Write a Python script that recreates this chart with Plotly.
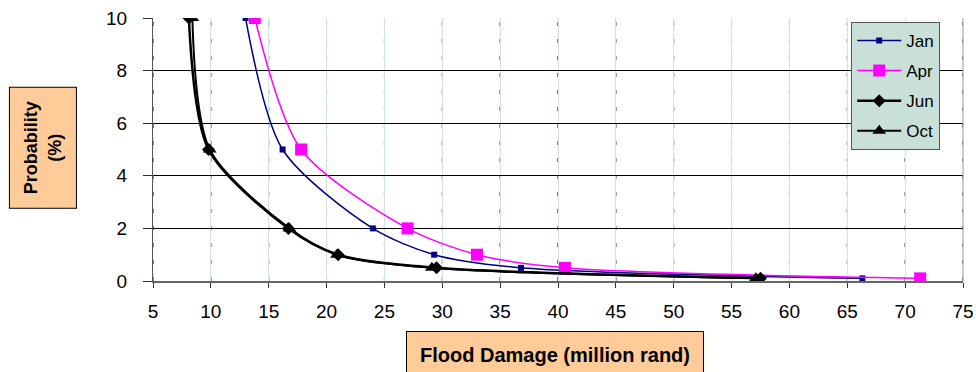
import plotly.graph_objects as go

# Flood damage (million rand) for each annual exceedance probability (%)
probability = [10, 5, 2, 1, 0.5, 0.1]
jan_damage = [13.0, 16.2, 24.0, 29.3, 36.8, 66.3]
apr_damage = [13.8, 17.8, 27.0, 33.0, 40.6, 71.3]
jun_damage = [8.1, 9.8, 16.7, 21.0, 29.5, 57.5]
oct_damage = [8.4, 9.9, 16.8, 20.9, 29.1, 57.1]

x_ticks = list(range(5, 80, 5))
y_ticks = [0, 2, 4, 6, 8, 10]

FONT = "Arial, Liberation Sans, sans-serif"

series = [
    ("Jan", jan_damage, "#000080", 1.5, dict(symbol="square", size=6, color="#000080")),
    ("Apr", apr_damage, "#ff00ff", 1.5, dict(symbol="square", size=12, color="#ff00ff")),
    ("Jun", jun_damage, "#000000", 2.5, dict(symbol="diamond", size=10, color="#000000")),
    ("Oct", oct_damage, "#000000", 2.0, dict(symbol="triangle-up", size=12, color="#000000")),
]

fig = go.Figure()
for name, xs, color, width, marker in series:
    fig.add_trace(go.Scatter(
        x=xs, y=probability, name=name, mode="lines+markers",
        line=dict(color=color, width=width, shape="spline", smoothing=0.8),
        marker=marker, legendgroup=name,
    ))

# dashed overlay on the vertical gridlines
for v in x_ticks:
    fig.add_shape(type="line", xref="x", yref="paper", x0=v, x1=v, y0=0, y1=1,
                  line=dict(color="#000000", width=1, dash="4px,13px"), layer="between")

fig.update_layout(
    width=976, height=372,
    margin=dict(l=153, r=13, t=18, b=91),
    paper_bgcolor="white", plot_bgcolor="white",
    font=dict(family=FONT, size=17, color="#000000"),
    showlegend=True,
    legend=dict(
        x=0.862, y=0.985, xanchor="left", yanchor="top",
        bgcolor="#c8e0d8", bordercolor="#555555", borderwidth=1,
        font=dict(family=FONT, size=17, color="#000000"),
        tracegroupgap=5, itemwidth=44,
    ),
    xaxis=dict(
        range=[5, 75], tickvals=x_ticks, ticks="outside", ticklen=5, tickcolor="#333333",
        tickfont=dict(family=FONT, size=19, color="#000000"),
        showgrid=True, gridcolor="#cfe3df", gridwidth=1,
        showline=True, linecolor="#666666", linewidth=2, mirror=False,
        zeroline=False, ticklabelstandoff=7, automargin=False,
    ),
    yaxis=dict(
        range=[0, 10], tickvals=y_ticks, ticks="outside", ticklen=9, tickcolor="#333333",
        tickfont=dict(family=FONT, size=19, color="#000000"),
        showgrid=True, gridcolor="#000000", gridwidth=1,
        showline=True, linecolor="#555555", linewidth=1,
        zeroline=False, ticklabelstandoff=12, automargin=False,
    ),
    annotations=[
        dict(text="<b>Probability<br>(%)</b>", xref="paper", yref="paper",
             x=-0.136, y=0.506, xanchor="center", yanchor="middle", showarrow=False,
             textangle=-90, font=dict(family=FONT, size=18, color="#000000"),
             bgcolor="#ffcc99", bordercolor="#000000", borderwidth=1,
             width=116, height=62, borderpad=2),
        dict(text="<b>Flood Damage (million rand)</b>", xref="paper", yref="paper",
             x=0.4965, y=-0.28, xanchor="center", yanchor="middle", showarrow=False,
             font=dict(family=FONT, size=20, color="#000000"),
             bgcolor="#ffcc99", bordercolor="#000000", borderwidth=1,
             width=294, height=44, borderpad=1),
    ],
)

# right-hand frame line of the plot area
fig.add_shape(type="line", xref="paper", yref="paper", x0=1, x1=1, y0=0, y1=1,
              line=dict(color="#999999", width=1))

fig.write_html("out.html")
